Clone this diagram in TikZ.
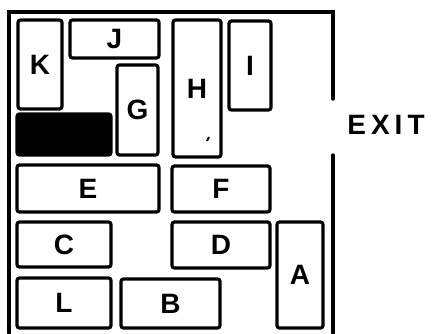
\documentclass[tikz,border=0pt]{standalone}
\usepackage{fontspec}
\setmainfont{Liberation Sans}
\begin{document}
\begin{tikzpicture}[x=1pt,y=-1pt,
  box/.style={draw=black, line width=3.2pt, rounded corners=2.5pt, inner sep=0pt,
    font=\bfseries\fontsize{28}{28}\selectfont},
  wall/.style={line width=3.4pt, line cap=round}]
\useasboundingbox (0,0) rectangle (437,333);
% frame
\coordinate (w1) at (333,99);
\coordinate (w2) at (333,12);
\coordinate (w3) at (9,12);
\coordinate (w4) at (9,333);
\coordinate (w5) at (333,155);
\coordinate (w6) at (333,333);
\draw[wall] (w1) -- (w2) -- (w3) -- (w4);
\draw[wall] (w5) -- (w6);
% blocks
\node[box, minimum width=44pt, minimum height=89pt] (K) at (40,64.5) {K};
\node[box, minimum width=89pt, minimum height=38pt] (J) at (114.5,39) {J};
\node[box, minimum width=41pt, minimum height=90pt] (G) at (137.5,110) {G};
\node[box, fill=black, minimum width=94pt, minimum height=41pt] (X) at (64,134.5) {};
\node[box, minimum width=48pt, minimum height=137pt] (H) at (197,88.5) {H};
\node[box, minimum width=42pt, minimum height=89pt] (I) at (250,65.5) {I};
\node[box, minimum width=142pt, minimum height=47pt] (E) at (88,188.5) {E};
\node[box, minimum width=98pt, minimum height=46pt] (F) at (221,189) {F};
\node[box, minimum width=94pt, minimum height=45pt] (C) at (64,244.5) {C};
\node[box, minimum width=98pt, minimum height=46pt] (D) at (221,245) {D};
\node[box, minimum width=94pt, minimum height=50pt] (L) at (64,303) {L};
\node[box, minimum width=99pt, minimum height=49pt] (B) at (170.5,303.5) {B};
\node[box, minimum width=46pt, minimum height=106pt] (A) at (300,275) {A};
% small mark in H
\coordinate (m1) at (207,141);
\coordinate (m2) at (209,137);
\draw[line width=1.8pt] (m1) -- (m2);
% exit label
\node[font=\bfseries\fontsize{28}{28}\selectfont] (exit) at (386,125) {E\hspace{5pt}X\hspace{5pt}I\hspace{5pt}T};
\end{tikzpicture}
\end{document}
